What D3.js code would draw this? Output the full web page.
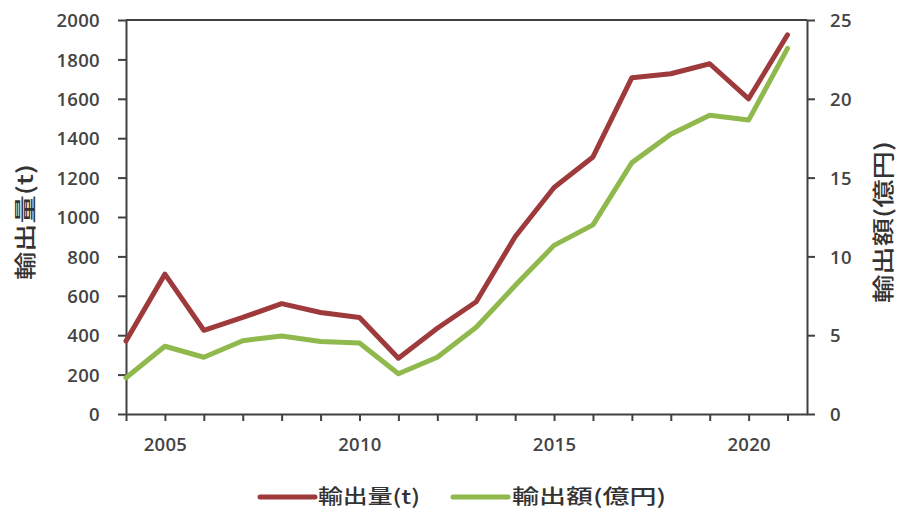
<!DOCTYPE html>
<html>
<head>
<meta charset="utf-8">
<script src="https://cdn.jsdelivr.net/npm/d3@7"></script>
<style>
  html, body { margin: 0; padding: 0; background: #ffffff; }
  svg { display: block; }
  .tick text { font-family: "Open Sans", "Lato", sans-serif; font-size: 18.5px; font-weight: 600; fill: #444444; letter-spacing: 0.3px; }
  .cjk { font-family: "Noto Sans CJK JP", "Noto Sans CJK SC", sans-serif; font-weight: 500; fill: #333333; }
</style>
</head>
<body>
<svg id="chart" width="898" height="513"></svg>
<script>
// Annual export volume (t) and export value (100 million yen)
const years = [2004, 2005, 2006, 2007, 2008, 2009, 2010, 2011, 2012, 2013,
               2014, 2015, 2016, 2017, 2018, 2019, 2020, 2021];
const volume = [370, 710, 425, 490, 560, 515, 490, 283, 435, 570,
                900, 1150, 1305, 1707, 1727, 1778, 1600, 1925];
const amount = [2.3, 4.3, 3.6, 4.65, 4.95, 4.6, 4.5, 2.55, 3.6, 5.5,
                8.15, 10.7, 12.0, 15.95, 17.75, 18.95, 18.65, 23.2];

const leftTicks = [0, 200, 400, 600, 800, 1000, 1200, 1400, 1600, 1800, 2000];
const rightTicks = [0, 5, 10, 15, 20, 25];
const labeledYears = [2005, 2010, 2015, 2020];

const volumeLabel = "輸出量(t)";
const amountLabel = "輸出額(億円)";

const colorVolume = "#9e3a3c";
const colorAmount = "#8fb94d";
const axisColor = "#404040";

const svg = d3.select("#chart");
svg.append("rect").attr("width", 898).attr("height", 513).attr("fill", "#ffffff");

const plot = { left: 126, right: 807, top: 20, bottom: 414 };

const x = d3.scaleLinear().domain([2004, 2021.5]).range([plot.left, plot.right]);
const yL = d3.scaleLinear().domain([0, 2000]).range([plot.bottom, plot.top]);
const yR = d3.scaleLinear().domain([0, 25]).range([plot.bottom, plot.top]);

function styleAxis(g) {
  g.select(".domain").attr("stroke", axisColor).attr("stroke-width", 2);
  g.selectAll(".tick line").attr("stroke", axisColor).attr("stroke-width", 2);
}

// top border of the plot area
svg.append("line")
  .attr("x1", plot.left).attr("x2", plot.right)
  .attr("y1", plot.top).attr("y2", plot.top)
  .attr("stroke", axisColor).attr("stroke-width", 2);

// left axis
svg.append("g")
  .attr("transform", `translate(${plot.left},0)`)
  .call(d3.axisLeft(yL).tickValues(leftTicks).tickFormat(d3.format("d"))
    .tickSize(8).tickSizeOuter(0).tickPadding(18))
  .call(styleAxis)
  .selectAll(".tick text").attr("dy", "0.36em");

// right axis
svg.append("g")
  .attr("transform", `translate(${plot.right},0)`)
  .call(d3.axisRight(yR).tickValues(rightTicks).tickFormat(d3.format("d"))
    .tickSize(8).tickSizeOuter(0).tickPadding(15))
  .call(styleAxis)
  .selectAll(".tick text").attr("dy", "0.36em");

// bottom axis: a tick every year, labels every five years
svg.append("g")
  .attr("transform", `translate(0,${plot.bottom})`)
  .call(d3.axisBottom(x).tickValues(years).tickSize(7).tickSizeOuter(0).tickPadding(17)
    .tickFormat(d => labeledYears.includes(d) ? String(d) : ""))
  .call(styleAxis);

// series lines
const lineVolume = d3.line().x((d, i) => x(years[i])).y(d => yL(d));
const lineAmount = d3.line().x((d, i) => x(years[i])).y(d => yR(d));

svg.append("path")
  .datum(volume)
  .attr("d", lineVolume)
  .attr("fill", "none")
  .attr("stroke", colorVolume)
  .attr("stroke-width", 5)
  .attr("stroke-linejoin", "round")
  .attr("stroke-linecap", "round");

svg.append("path")
  .datum(amount)
  .attr("d", lineAmount)
  .attr("fill", "none")
  .attr("stroke", colorAmount)
  .attr("stroke-width", 5)
  .attr("stroke-linejoin", "round")
  .attr("stroke-linecap", "round");

// axis titles
svg.append("text")
  .attr("class", "cjk")
  .attr("transform", `translate(33,222) rotate(-90)`)
  .attr("text-anchor", "middle")
  .attr("font-size", 22)
  .attr("textLength", 116)
  .attr("lengthAdjust", "spacingAndGlyphs")
  .text(volumeLabel);

svg.append("text")
  .attr("class", "cjk")
  .attr("transform", `translate(891,222) rotate(-90)`)
  .attr("text-anchor", "middle")
  .attr("font-size", 22)
  .attr("textLength", 162)
  .attr("lengthAdjust", "spacingAndGlyphs")
  .text(amountLabel);

// legend
const legend = svg.append("g");
const legendItems = [
  { label: volumeLabel, color: colorVolume, x0: 260, tx: 318, len: 102 },
  { label: amountLabel, color: colorAmount, x0: 453, tx: 512, len: 154 }
];
legendItems.forEach(item => {
  legend.append("line")
    .attr("x1", item.x0).attr("x2", item.x0 + 55)
    .attr("y1", 497).attr("y2", 497)
    .attr("stroke", item.color).attr("stroke-width", 5)
    .attr("stroke-linecap", "round");
  legend.append("text")
    .attr("class", "cjk")
    .attr("x", item.tx).attr("y", 504)
    .attr("font-size", 20)
    .attr("textLength", item.len)
    .attr("lengthAdjust", "spacingAndGlyphs")
    .text(item.label);
});
</script>
</body>
</html>
